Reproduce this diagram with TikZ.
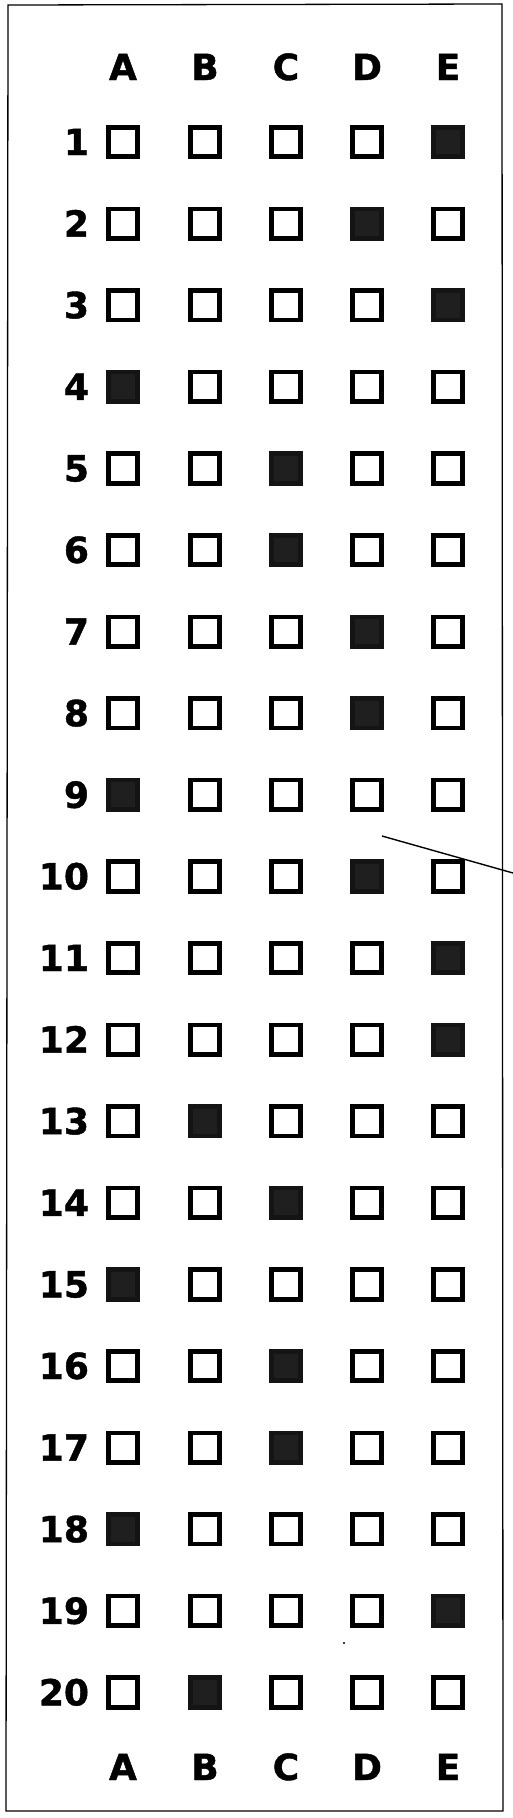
\documentclass[tikz,border=0pt]{standalone}
\usepackage{fontspec}
\setmainfont{DejaVu Sans}
\newfontfamily\heavyfont{DejaVu Sans Bold}[FakeBold=1.2]
\tikzset{
  opt/.style={draw=black, line width=4.7pt, minimum size=29.5pt, inner sep=0pt, outer sep=0pt, fill=white},
  marked/.style={opt, fill=black!88, draw=black!92},
  lbl/.style={font=\fontsize{36}{40}\selectfont\heavyfont, inner sep=0pt, outer sep=0pt},
  frameline/.style={draw=black, line width=1.3pt},
}
\begin{document}
\begin{tikzpicture}[x=1pt,y=-1pt]
\useasboundingbox (0,0) rectangle (513,1818);
\fill[white] (0,0) rectangle (513,1818);
\draw[frameline] (8,5) -- (502,4) -- (503,1811) -- (6,1811) -- cycle;
% column letters
\foreach \c/\x/\L in {1/123/A,2/205/B,3/286/C,4/367/D,5/448/E}{
  \node[lbl, anchor=base] (top\c) at (\x,80) {\L};
  \node[lbl, anchor=base] (bot\c) at (\x,1780) {\L};
}
% rows
\foreach \r/\m in {1/5,2/4,3/5,4/1,5/3,6/3,7/4,8/4,9/1,10/4,11/5,12/5,13/2,14/3,15/1,16/3,17/3,18/1,19/5,20/2}{
  \pgfmathsetmacro\yy{142+(\r-1)*81.6}
  \node[lbl, anchor=base east] (n\r) at (89,\yy+13) {\r};
  \foreach \c/\x in {1/123,2/205,3/286,4/367,5/448}{
    \ifnum\c=\m
      \node[marked] (b\r-\c) at (\x,\yy) {};
    \else
      \node[opt] (b\r-\c) at (\x,\yy) {};
    \fi
  }
}
% stray pen stroke and speck
\coordinate (s1) at (382,836);
\coordinate (s2) at (513,873);
\draw[line width=1.4pt] (s1) -- (s2);
\fill (344,1643) circle (1.2);
\end{tikzpicture}
\end{document}
